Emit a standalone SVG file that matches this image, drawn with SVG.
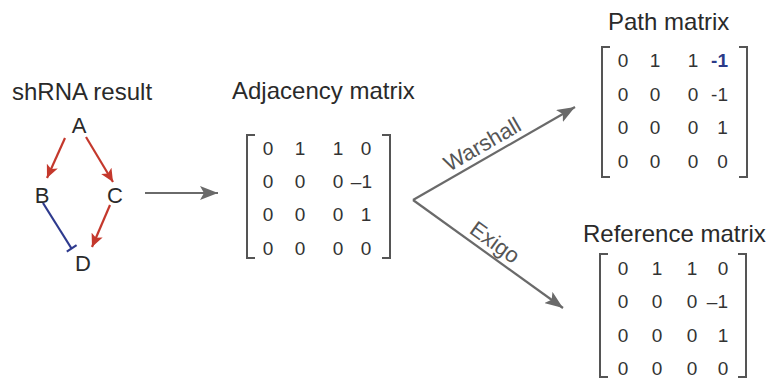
<svg xmlns="http://www.w3.org/2000/svg" width="775" height="381" viewBox="0 0 775 381">
  <style>
    .title { font-family: "Liberation Sans", Arial, sans-serif; font-size: 24px; fill: #2a2a2a; }
    .node { font-family: "Liberation Sans", Arial, sans-serif; font-size: 22px; fill: #2a2a2a; text-anchor: middle; }
    .num { font-family: "Liberation Sans", Arial, sans-serif; font-size: 19px; fill: #333; text-anchor: middle; }
    .num-end { text-anchor: end; }
    .label { font-family: "Liberation Sans", Arial, sans-serif; font-size: 22px; fill: #555; text-anchor: middle; }
    .bracket { fill: none; stroke: #555; stroke-width: 2; }
    .flow { fill: none; stroke: #6a6a6a; stroke-width: 2.2; }
    .act { fill: none; stroke: #c4382c; stroke-width: 2.2; }
    .inh { fill: none; stroke: #2e3a8e; stroke-width: 2.2; }
  </style>
  <defs>
    <marker id="grayHead" markerUnits="userSpaceOnUse" markerWidth="20" markerHeight="14" refX="18" refY="7" orient="auto">
      <path d="M0,0 L18,7 L0,14 L4,7 Z" fill="#6a6a6a"/>
    </marker>
    <marker id="redHead" markerUnits="userSpaceOnUse" markerWidth="14" markerHeight="12" refX="13" refY="6" orient="auto">
      <path d="M0,0 L13,6 L0,12 L3,6 Z" fill="#c4382c"/>
    </marker>
  </defs>

  <rect width="775" height="381" fill="#ffffff"/>

  <!-- signalling graph -->
  <g id="graph">
    <text class="title" x="12" y="100">shRNA result</text>
    <g id="node-A"><text class="node" x="79" y="133">A</text></g>
    <g id="node-B"><text class="node" x="42" y="203">B</text></g>
    <g id="node-C"><text class="node" x="115" y="203">C</text></g>
    <g id="node-D"><text class="node" x="83" y="271">D</text></g>
    <g id="graph-edges">
      <line class="act" x1="65" y1="138" x2="47" y2="178" marker-end="url(#redHead)"/>
      <line class="act" x1="86" y1="137" x2="113" y2="182" marker-end="url(#redHead)"/>
      <line class="act" x1="110" y1="205" x2="92" y2="247" marker-end="url(#redHead)"/>
      <line class="inh" x1="43" y1="203" x2="71.5" y2="248.5"/>
      <line class="inh" x1="66.8" y1="251.6" x2="76.6" y2="245.2"/>
    </g>
  </g>

  <!-- adjacency matrix -->
  <g id="adjacency">
    <text class="title" x="232" y="99">Adjacency matrix</text>
    <path class="bracket" d="M255,135 H247 V258 H255"/>
    <path class="bracket" d="M382,135 H390 V258 H382"/>
    <text class="num" x="268" y="155">0</text><text class="num" x="300" y="155">1</text><text class="num" x="338" y="155">1</text><text class="num" x="366" y="155">0</text>
    <text class="num" x="268" y="188">0</text><text class="num" x="300" y="188">0</text><text class="num" x="338" y="188">0</text><text class="num num-end" x="372" y="188">–1</text>
    <text class="num" x="268" y="221">0</text><text class="num" x="300" y="221">0</text><text class="num" x="338" y="221">0</text><text class="num" x="366" y="221">1</text>
    <text class="num" x="268" y="255">0</text><text class="num" x="300" y="255">0</text><text class="num" x="338" y="255">0</text><text class="num" x="366" y="255">0</text>
  </g>

  <!-- path matrix -->
  <g id="path-matrix">
    <text class="title" x="608" y="30">Path matrix</text>
    <path class="bracket" d="M610,47 H602 V177 H610"/>
    <path class="bracket" d="M739,47 H747 V177 H739"/>
    <text class="num" x="623" y="67">0</text><text class="num" x="655" y="67">1</text><text class="num" x="693" y="67">1</text><text class="num num-end" x="728" y="67" style="fill:#2b3a88;font-weight:bold">-1</text>
    <text class="num" x="623" y="101">0</text><text class="num" x="655" y="101">0</text><text class="num" x="693" y="101">0</text><text class="num num-end" x="728" y="101">-1</text>
    <text class="num" x="623" y="134">0</text><text class="num" x="655" y="134">0</text><text class="num" x="693" y="134">0</text><text class="num" x="722.5" y="134">1</text>
    <text class="num" x="623" y="168">0</text><text class="num" x="655" y="168">0</text><text class="num" x="693" y="168">0</text><text class="num" x="722.5" y="168">0</text>
  </g>

  <!-- reference matrix -->
  <g id="reference-matrix">
    <text class="title" x="583" y="242">Reference matrix</text>
    <path class="bracket" d="M608,254 H600 V377 H608"/>
    <path class="bracket" d="M738,254 H746 V377 H738"/>
    <text class="num" x="623" y="275">0</text><text class="num" x="657" y="275">1</text><text class="num" x="692" y="275">1</text><text class="num" x="723" y="275">0</text>
    <text class="num" x="623" y="308">0</text><text class="num" x="657" y="308">0</text><text class="num" x="692" y="308">0</text><text class="num num-end" x="728" y="308">–1</text>
    <text class="num" x="623" y="342">0</text><text class="num" x="657" y="342">0</text><text class="num" x="692" y="342">0</text><text class="num" x="723" y="342">1</text>
    <text class="num" x="623" y="375">0</text><text class="num" x="657" y="375">0</text><text class="num" x="692" y="375">0</text><text class="num" x="723" y="375">0</text>
  </g>

  <!-- connectors between stages -->
  <g id="connectors">
    <line class="flow" x1="145" y1="193" x2="218" y2="193" marker-end="url(#grayHead)"/>
    <line class="flow" x1="413" y1="200" x2="575" y2="107" marker-end="url(#grayHead)"/>
    <line class="flow" x1="413" y1="200" x2="563" y2="308" marker-end="url(#grayHead)"/>
    <text class="label" transform="translate(489,156) rotate(-29.9)" y="-6">Warshall</text>
    <text class="label" transform="translate(487,253.3) rotate(35.75)" y="-6">Exigo</text>
  </g>
</svg>
